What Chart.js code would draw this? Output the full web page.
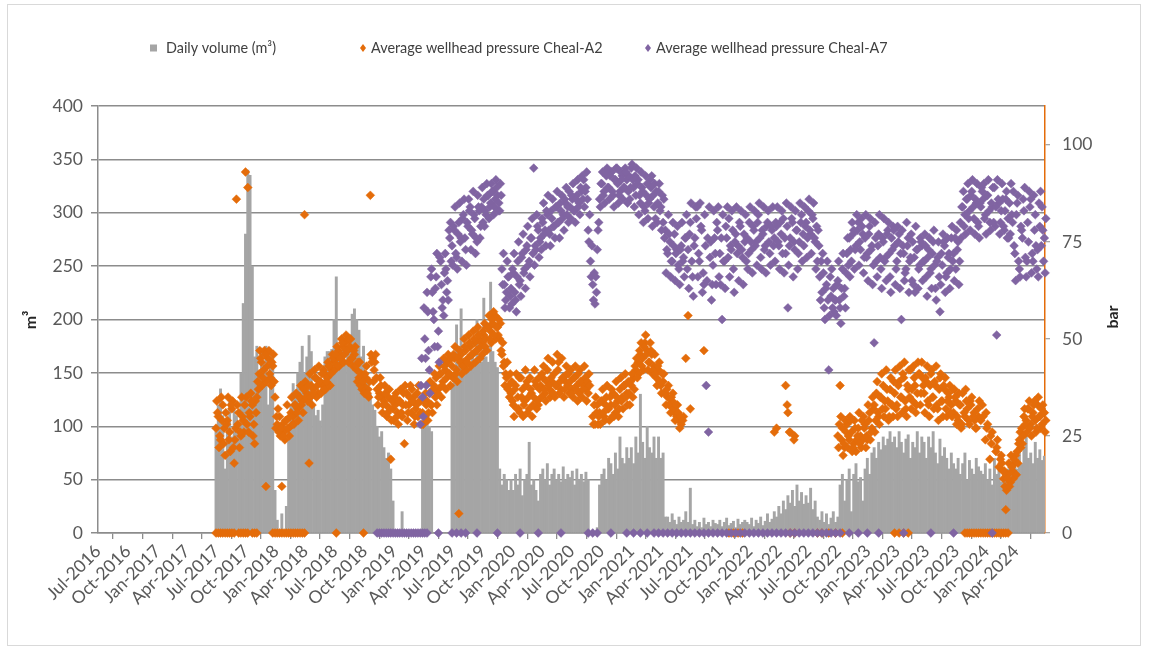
<!DOCTYPE html>
<html>
<head>
<meta charset="utf-8">
<script src="https://cdn.jsdelivr.net/npm/chart.js@4.4.1/dist/chart.umd.min.js"></script>
<style>
  html, body { margin: 0; padding: 0; background: #fff; }
</style>
</head>
<body>
<canvas id="chart" width="1149" height="655"></canvas>
<script>
// quarterly labels of the date axis
const tickLabels = ['Jul-2016', 'Oct-2016', 'Jan-2017', 'Apr-2017', 'Jul-2017', 'Oct-2017', 'Jan-2018', 'Apr-2018',
    'Jul-2018', 'Oct-2018', 'Jan-2019', 'Apr-2019', 'Jul-2019', 'Oct-2019', 'Jan-2020', 'Apr-2020',
    'Jul-2020', 'Oct-2020', 'Jan-2021', 'Apr-2021', 'Jul-2021', 'Oct-2021', 'Jan-2022', 'Apr-2022',
    'Jul-2022', 'Oct-2022', 'Jan-2023', 'Apr-2023', 'Jul-2023', 'Oct-2023', 'Jan-2024', 'Apr-2024'];
const pressureTicks = [0, 25, 50, 75, 100];

const axisStart = '2016-07-01';
const axisEnd = '2024-06-30';
const firstWeek = '2017-06-30';   // one volume reading per week from here on

// daily volume (m3), weekly readings
const volume2017 = [
    95, 120, 135, 110, 60, 100, 125, 90, 115, 110, 95, 150, 215,
    280, 340, 335, 250, 165, 175, 150, 170, 160, 175, 120, 170, 165];
const volume2018 = [
    40, 12, 0, 18, 0, 25, 95, 120, 140, 130, 150, 160, 175,
    150, 165, 185, 170, 120, 110, 115, 105, 120, 165, 170, 170, 172,
    200, 240, 170, 165, 175, 160, 170, 185, 205, 210, 200, 190, 165,
    175, 150, 140, 130, 120, 115, 100, 90, 95, 80, 70, 75, 60];
const volume2019 = [
    30, 0, 0, 0, 20, 0, 0, 0, 0, 0, 0, 0, 0,
    100, 105, 105, 100, 95, 0, 0, 0, 0, 0, 0, 0, 0,
    140, 150, 195, 175, 210, 155, 160, 150, 155, 165, 160, 200, 160,
    160, 220, 165, 160, 235, 170, 160, 155, 60, 45, 55, 50, 40];
const volume2020 = [
    50, 40, 55, 45, 60, 35, 50, 55, 85, 45, 50, 40, 30,
    55, 60, 50, 65, 45, 55, 60, 50, 55, 48, 62, 50, 55,
    52, 58, 45, 60, 50, 55, 48, 57, 50, 0, 0, 0, 5,
    45, 55, 60, 50, 70, 65, 55, 75, 60, 90, 70, 65, 80];
const volume2021 = [
    70, 80, 65, 90, 75, 130, 85, 70, 100, 80, 75, 90, 70,
    90, 70, 75, 15, 15, 10, 18, 12, 8, 15, 10, 12, 20,
    10, 42, 8, 12, 6, 10, 5, 14, 8, 10, 6, 12, 9,
    8, 12, 6, 10, 14, 7, 9, 11, 5, 13, 8, 10, 12];
const volume2022 = [
    10, 8, 14, 6, 12, 9, 15, 7, 11, 18, 10, 13, 20,
    15, 25, 18, 30, 22, 35, 28, 40, 25, 45, 30, 38, 27,
    35, 28, 42, 22, 30, 15, 12, 20, 10, 18, 8, 14, 20,
    10, 15, 45, 55, 30, 50, 60, 20, 55, 65, 48, 52, 30];
const volume2023 = [
    60, 70, 55, 75, 80, 70, 85, 78, 90, 82, 88, 95, 85,
    90, 80, 95, 85, 75, 88, 92, 70, 85, 80, 95, 75, 90,
    85, 70, 90, 80, 95, 75, 65, 88, 72, 80, 70, 60, 75,
    65, 60, 70, 55, 65, 75, 50, 68, 60, 55, 70, 62, 58];
const volume2024 = [
    55, 65, 50, 60, 45, 70, 55, 62, 48, 58, 52, 60, 65,
    70, 75, 60, 85, 65, 80, 96, 70, 75, 65, 85, 70, 78, 68, 72];

// average wellhead pressure Cheal-A2 (bar): first reading of each week
const a2_2017 = [
    27, 30, 24, 33, 20, 29, 26, 32, 18, 86, 31, 25, 29,
    93, 89, 30, 33, 23, 35, 41, 44, 42, 12, 45, 40, 43];
const a2_2018 = [
    35, 28, 30, 12, 26, 29, 27, 31, 30, 33, 32, 35, 34,
    82, 36, 18, 38, 37, 40, 36, 39, 38, 41, 40, 43, 42,
    44, 45, 47, 46, 48, 49, 47, 48, 45, 46, 42, 40, 41,
    38, 40, 37, 87, 45, 44, 37, 36, 35, 34, 33, 35, 19];
const a2_2019 = [
    32, 33, 31, 34, 30, 23, 36, 33, 31, 35, 32, 30, 31,
    31, 30, 34, 36, 33, 38, 40, 37, 41, 39, 42, 44, 41,
    43, 45, 42, 5, 46, 44, 47, 45, 48, 46, 49, 47, 50,
    49, 51, 50, 53, 52, 54, 56, 53, 50, 46, 44, 40, 38];
const a2_2020 = [
    36, 33, 38, 35, 31, 37, 34, 39, 32, 36, 35, 38, 33,
    38, 40, 36, 42, 37, 39, 41, 38, 44, 37, 40, 39, 38,
    39, 37, 40, 38, 36, 39, 38, 37, 36, null, 30, 28, 33,
    31, 34, 30, 35, 32, 33, 36, 31, 34, 37, 35, 38, 36];
const a2_2021 = [
    36, 38, 40, 42, 44, 46, 45, 49, 47, 44, 46, 43, 40,
    42, 38, 39, 36, 35, 33, 34, 31, 30, 29, 28, 30, 45,
    56, 32, null, null, null, null, null, 47, null, null, null, null, null,
    null, null, null, null, null, null, null, null, null, null, null, null, null];
const a2_2022 = [
    null, null, null, null, null, null, null, null, null, null, null, null, 26,
    27, null, null, null, 38, 31, 26, null, 25, null, null, null, null,
    null, null, null, null, null, null, null, null, null, null, null, null, null,
    null, 25, 38, 27, 22, 28, 24, 26, 23, 21, 27, 25, 24];
const a2_2023 = [
    28, 24, 31, 27, 33, 36, 30, 35, 38, 32, 34, 37, 33,
    36, 33, 39, 35, 40, 32, 37, 42, 34, 38, 36, 41, 44,
    36, 39, 33, 41, 35, 38, 32, 40, 34, 37, 30, 35, 33,
    31, 34, 29, 33, 36, 30, 32, 28, 35, 31, 27, 30, 29];
const a2_2024 = [
    30, 24, 28, 19, 26, null, 22, 17, 20, 14, 6, 15, 13,
    16, 18, 21, 24, 27, 30, 29, 32, 28, 31, 29, 33, 30, 28, 31];

// Cheal-A2: second reading of each week
const a2c_2017 = [
    34, 22, 35, 23, 31, 35, 21, 34, 24, 33, 22, 35, 26,
    35, 26, 36, 25, 34, 39, 47, 38, 47, 39, 47, 38, 46];
const a2c_2018 = [
    27, 32, 25, 28, 24, 33, 25, 35, 28, 36, 29, 38, 31,
    39, 34, 41, 33, 42, 35, 43, 36, 42, 37, 44, 38, 46,
    42, 48, 43, 50, 44, 51, 44, 50, 43, 48, 39, 44, 37,
    36, 43, 35, 46, 39, 46, 33, 40, 31, 38, 30, 37, 29];
const a2c_2019 = [
    29, 36, 28, 37, 33, 38, 29, 35, 37, 28, 33, 38, 34,
    28, 36, 29, 39, 31, 41, 33, 43, 35, 45, 37, 46, 38,
    40, 48, 39, 47, 41, 50, 42, 51, 43, 52, 44, 53, 45,
    46, 54, 47, 56, 49, 57, 50, 51, 54, 49, 38, 44, 35];
const a2c_2020 = [
    39, 30, 41, 32, 40, 30, 42, 31, 40, 30, 42, 32, 40,
    35, 43, 34, 45, 35, 44, 35, 46, 36, 45, 35, 43, 41,
    42, 35, 43, 34, 42, 35, 43, 34, 41, null, 28, 35, 28,
    28, 37, 29, 38, 29, 37, 30, 39, 30, 40, 32, 41, 33];
const a2c_2021 = [
    33, 41, 37, 45, 41, 49, 42, 51, 42, 49, 41, 46, 38,
    44, 36, 41, 33, 38, 31, 36, 29, 33, 27, null, null, null,
    null, null, null, null, null, null, null, null, null, null, null, null, null,
    null, null, null, null, null, null, null, null, null, null, null, null, null];
const a2c_2022 = [
    null, null, null, null, null, null, null, null, null, null, null, null, null,
    null, null, null, null, null, null, null, null, null, null, null, null, null,
    null, null, null, null, null, null, null, null, null, null, null, null, null,
    null, 22, 30, 20, 29, 22, 30, 21, 29, 24, 31, 22, 30];
const a2c_2023 = [
    22, 33, 24, 35, 26, 39, 28, 41, 30, 42, 29, 40, 30,
    42, 30, 43, 31, 44, 30, 42, 32, 43, 31, 44, 33, 40,
    31, 43, 30, 42, 32, 43, 29, 41, 30, 40, 34, 38, 30,
    37, 28, 36, 27, null, 37, null, 34, null, 29, null, 34, null];
const a2c_2024 = [
    null, 31, null, 25, null, null, 24, null, 18, 16, 11, 18, 20,
    14, 20, 18, 26, 23, 32, 26, 34, 25, 33, 26, 35, 27, 33, 26];

// Cheal-A2: third reading of each week
const a2b_2017 = [
    31, 25, 29, 27, 28, 24, 33, 22, 27, 28, 26, 30, 33,
    28, 31, 34, 28, 31, 37, 45, 40, 46, 43, 41, 44, 39];
const a2b_2018 = [
    30, 26, 27, 25, 29, 27, 30, 28, 33, 31, 35, 33, 37,
    35, 38, 35, 36, 40, 38, 39, 41, 37, 39, 43, 41, 45,
    46, 43, 45, 49, 46, 47, 50, 45, 47, 43, 44, 38, 39,
    41, 36, 39, 44, 42, 40, 35, 38, 33, 36, 31, 32, 34];
const a2b_2019 = [
    35, 30, 34, 31, 36, 33, 31, 38, 34, 30, 36, 34, 28,
    34, 33, 31, 33, 37, 35, 36, 41, 38, 43, 40, 41, 45,
    46, 41, 45, 44, 43, 48, 44, 49, 46, 50, 47, 51, 48,
    52, 48, 53, 50, 55, 51, 53, 55, 47, 43, 41, 37, 41];
const a2b_2020 = [
    34, 37, 32, 40, 35, 33, 38, 35, 37, 33, 39, 34, 37,
    41, 37, 39, 38, 40, 36, 38, 42, 39, 40, 37, 41, 36,
    36, 40, 37, 41, 39, 37, 40, 39, 38, null, 33, 31, 30,
    34, 31, 33, 32, 35, 30, 33, 35, 32, 34, 38, 35, 39];
const a2b_2021 = [
    39, 35, 43, 40, 47, 43, 48, 46, 44, 47, 42, 41, 43,
    39, 41, 36, 37, 33, 35, 32, 33, 31, 30, 29, null, null,
    null, null, null, null, null, null, null, null, null, null, null, null, null,
    null, null, null, null, null, null, null, null, null, null, null, null, null];
const a2b_2022 = [
    null, null, null, null, null, null, null, null, null, null, null, null, null,
    null, null, null, null, 33, 26, null, 24, null, null, null, null, null,
    null, null, null, null, null, null, null, null, null, null, null, null, null,
    null, 28, 24, 23, 26, 25, 29, 22, 27, 25, 23, 29, 27];
const a2b_2023 = [
    25, 29, 26, 32, 29, 31, 35, 32, 34, 37, 30, 33, 39,
    32, 38, 35, 41, 34, 38, 35, 37, 40, 33, 41, 36, 38,
    40, 34, 38, 35, 39, 33, 37, 34, 38, 32, 36, 31, 37,
    35, 30, 33, 28, 31, 34, 29, 33, 30, 27, 32, null, 33];
const a2b_2024 = [
    null, 27, null, 23, null, 21, null, 19, 16, 12, 14, 12, 17,
    19, 15, 23, 22, 25, 28, 32, 27, 30, 34, 27, 30, 32, 31, 29];

// average wellhead pressure Cheal-A7 (bar), readings from Jan-2019 (week 78)
const a7FirstIndex = 78;
const a7_2019 = [
    null, null, null, null, null, null, null, null, null, null, null, null, 28,
    35, 50, 62, 42, 68, 55, 66, 52, 70, 60, 72, 65, 76,
    74, 78, 71, 80, 76, 82, 73, 79, 84, 77, 81, 75, 83,
    84, 86, 82, 87, 85, 88, 86, 87, 83, 68, 64, 62, 66];
const a7_2020 = [
    63, 67, 60, 70, 65, 72, 68, 74, 70, 76, 94, 73, 78,
    76, 80, 78, 82, 77, 81, 79, 84, 80, 83, 82, 85, 84,
    84, 86, 83, 87, 85, 88, 91, 89, 78, 70, 64, 59, 73,
    86, 90, 88, 92, 89, 93, 87, 91, 90, 88, 92, 89, 91];
const a7_2021 = [
    92, 94, 89, 87, 91, 85, 88, 83, 90, 86, 92, 84, 88,
    88, 84, 80, 78, 72, 75, 70, 77, 73, 68, 74, 71, 76,
    73, 80, 66, 76, 84, 70, 78, 64, 38, 26, 75, 69, 72,
    78, 72, 55, 70, 76, 81, 73, 68, 77, 74, 79, 71, 75];
const a7_2022 = [
    76, 80, 73, 78, 75, 82, 71, 77, 74, 80, 72, 78, 76,
    79, 74, 77, 81, 72, 58, 76, 80, 73, 78, 75, 82, 74,
    80, 83, 77, 81, 75, 70, 66, 62, 58, 64, 42, 61, 63,
    60, 65, 58, 68, 63, 72, 76, 70, 78, 74, 80, 73, 77];
const a7_2023 = [
    76, 72, 79, 74, 49, 70, 77, 68, 75, 71, 78, 66, 73,
    74, 70, 77, 55, 72, 68, 76, 71, 75, 62, 73, 69, 74,
    70, 66, 73, 68, 75, 63, 71, 57, 69, 74, 67, 72, 76,
    72, 68, 75, 80, 84, 82, 86, 83, 88, 81, 85, 79, 84];
const a7_2024 = [
    86, 82, 87, 80, 84, 89, 51, 85, 83, 79, 86, 81, 77,
    80, 72, 85, 68, 78, 83, 66, 75, 86, 70, 82, 73, 79, 84, 76];

// Cheal-A7: second reading of each week
const a7c_2019 = [
    null, null, null, null, null, null, null, null, null, null, null, null, 38,
    30, 45, 57, 36, 62, 48, 72, 44, 64, 56, 68, 60, 80,
    69, 84, 68, 85, 70, 86, 69, 86, 73, 88, 72, 87, 76,
    89, 79, 90, 81, 90, 82, 91, 83, 90, 64, 58, 70, 58];
const a7c_2020 = [
    59, 72, 57, 75, 61, 77, 63, 79, 66, 81, 69, 82, 71,
    73, 85, 74, 87, 74, 86, 76, 88, 76, 87, 78, 89, 80,
    81, 90, 80, 91, 82, 92, 84, 93, 75, 66, 60, 66, 78,
    84, 93, 85, 94, 86, 93, 84, 94, 85, 93, 86, 94, 85];
const a7c_2021 = [
    86, 95, 84, 94, 82, 93, 80, 92, 81, 91, 79, 90, 80,
    90, 78, 86, 67, 82, 66, 80, 65, 79, 64, 80, 66, 82,
    63, 85, 61, 84, 66, 85, 62, 82, 65, 84, 60, 83, 64,
    84, 64, 82, 63, 84, 66, 83, 62, 84, 65, 83, 64, 82];
const a7c_2022 = [
    68, 84, 67, 83, 69, 85, 68, 84, 67, 83, 69, 84, 70,
    84, 68, 83, 67, 85, 69, 84, 66, 83, 68, 85, 70, 84,
    71, 86, 72, 85, 68, 78, 60, 72, 55, 70, 56, 68, 57,
    56, 70, 54, 72, 58, 76, 66, 80, 68, 82, 69, 81, 67];
const a7c_2023 = [
    82, 65, 81, 64, 80, 66, 82, 63, 81, 65, 80, 62, 79,
    64, 79, 63, 78, 65, 80, 62, 77, 64, 79, 63, 76, 65,
    77, 61, 76, 63, 78, 60, 75, 64, 77, 62, 76, 63, 79,
    65, 78, 64, 76, 88, 77, 90, 78, 91, 77, 90, 76, 89];
const a7c_2024 = [
    90, 77, 91, 78, 89, 79, 91, 77, 90, 78, 88, 76, 90,
    88, 65, 87, 66, 76, 89, 70, 88, 67, 87, 74, 66, 88, 78, 67];

// Cheal-A7: third reading of each week
const a7b_2019 = [
    null, null, null, null, null, null, null, null, null, null, null, null, 45,
    58, 38, 47, 66, 57, 63, 48, 71, 58, 67, 62, 78, 70,
    79, 72, 77, 75, 81, 76, 80, 83, 78, 82, 76, 84, 79,
    80, 83, 87, 84, 88, 84, 89, 85, 87, 72, 60, 66, 61];
const a7b_2020 = [
    68, 62, 66, 64, 71, 67, 73, 69, 76, 72, 74, 79, 75,
    81, 77, 83, 78, 83, 79, 84, 80, 85, 81, 86, 82, 88,
    87, 83, 86, 84, 89, 86, 88, 86, 82, 74, 67, 62, 80,
    90, 87, 93, 89, 92, 88, 91, 94, 87, 91, 89, 93, 88];
const a7b_2021 = [
    89, 91, 92, 90, 87, 89, 84, 87, 85, 89, 87, 81, 85,
    83, 87, 76, 73, 77, 70, 74, 72, 69, 73, 70, 76, 68,
    77, 70, 74, 81, 72, 79, 67, 74, 76, 71, 64, 76, 80,
    66, 76, 70, 79, 71, 74, 78, 75, 72, 80, 73, 77, 70];
const a7b_2022 = [
    72, 75, 79, 74, 80, 76, 78, 73, 79, 75, 79, 74, 80,
    75, 80, 72, 76, 79, 74, 81, 75, 78, 72, 80, 77, 79,
    76, 78, 82, 76, 79, 74, 70, 67, 63, 60, 66, 58, 60,
    64, 60, 63, 61, 67, 69, 73, 77, 73, 78, 75, 79, 71];
const a7b_2023 = [
    71, 77, 73, 69, 76, 74, 71, 76, 70, 77, 72, 76, 78,
    68, 75, 72, 74, 67, 74, 70, 65, 71, 73, 68, 75, 70,
    74, 71, 67, 72, 69, 70, 66, 72, 75, 66, 71, 68, 70,
    76, 73, 70, 84, 79, 86, 81, 87, 84, 86, 80, 85, 88];
const a7b_2024 = [
    81, 87, 83, 85, 80, 84, 86, 80, 86, 83, 76, 85, 82,
    74, 82, 70, 79, 86, 71, 80, 84, 72, 78, 68, 85, 74, 70, 81];

// weeks (counted from firstWeek) with a reading of 0 bar
const a2ZeroWeeks = [0, 1, 2, 3, 4, 5, 6, 7, 8, 10, 11, 12, 13, 14, 16, 17, 18,
    25, 26, 27, 28, 29, 30, 31, 32, 33, 34, 35, 36, 37, 38, 39, 53, 65,
    226, 228, 230, 232, 253, 255, 265, 267, 270, 273, 276, 299, 301, 303, 305,
    330, 331, 332, 333, 334, 335, 336, 337, 338, 339, 340, 341, 342, 343, 344, 345, 346, 347, 348, 349];
const a7ZeroWeeks = [71, 72, 73, 74, 75, 76, 77, 78, 79, 80, 81, 82, 83, 84, 85, 86, 87, 88, 89, 90, 91, 92, 93,
    98, 104, 106, 108, 110, 115, 124, 134, 142, 152, 164, 166, 168, 174, 181, 184, 187, 190, 193,
    195, 197, 199, 201, 203, 205, 207, 209, 211, 213, 215, 217, 219, 221, 223, 225, 227, 229, 231, 233,
    235, 237, 239, 241, 243, 245, 247, 249, 251, 253, 255, 257, 259, 261, 263, 265, 267, 269, 271, 273, 275,
    279, 283, 287, 292, 303, 315, 325, 342];

const COLORS = { volume: '#a5a5a5', a2: '#e46c0a', a7: '#8064a2', grid: '#8c8c8c', text: '#595959' };

const DAY = 86400000;
const dayOf = (s) => (Date.parse(s) - Date.parse(axisStart)) / DAY;
const MONTHS = { Jan: 0, Apr: 3, Jul: 6, Oct: 9 };
const tickDays = tickLabels.map((l) => {
    const [m, y] = l.split('-');
    return (Date.UTC(+y, MONTHS[m], 1) - Date.parse(axisStart)) / DAY;
});
const week0 = dayOf(firstWeek);
const weekDay = (k) => week0 + 7 * k;

const volume = [].concat(volume2017, volume2018, volume2019, volume2020, volume2021, volume2022, volume2023, volume2024);
const a2 = [].concat(a2_2017, a2_2018, a2_2019, a2_2020, a2_2021, a2_2022, a2_2023, a2_2024);
const a2c = [].concat(a2c_2017, a2c_2018, a2c_2019, a2c_2020, a2c_2021, a2c_2022, a2c_2023, a2c_2024);
const a2b = [].concat(a2b_2017, a2b_2018, a2b_2019, a2b_2020, a2b_2021, a2b_2022, a2b_2023, a2b_2024);
const a7 = [].concat(a7_2019, a7_2020, a7_2021, a7_2022, a7_2023, a7_2024);
const a7c = [].concat(a7c_2019, a7c_2020, a7c_2021, a7c_2022, a7c_2023, a7c_2024);
const a7b = [].concat(a7b_2019, a7b_2020, a7b_2021, a7b_2022, a7b_2023, a7b_2024);

// turn a list of weekly readings into chart points; later readings of a week sit a few days on
function toPoints(values, firstIndex, shift) {
    return values
        .map((v, k) => ({ x: weekDay(k + firstIndex) + shift, y: v }))
        .filter((p) => p.y !== null);
}
const zeroPoints = (weeks) => weeks.map((k) => ({ x: weekDay(k), y: 0 }));

const volumePoints = volume.map((v, k) => ({ x: weekDay(k), y: v }));
const a2Points = zeroPoints(a2ZeroWeeks).concat(
    toPoints(a2, 0, 0), toPoints(a2c, 0, 2.3), toPoints(a2b, 0, 4.6));
const a7Points = zeroPoints(a7ZeroWeeks).concat(
    toPoints(a7, a7FirstIndex, 0), toPoints(a7c, a7FirstIndex, 2.3), toPoints(a7b, a7FirstIndex, 4.6));

// frame round the chart, the legend row and both axis titles
const chartDecor = {
    id: 'chartDecor',
    beforeDraw(chart) {
        const c = chart.ctx;
        c.save();
        c.fillStyle = '#fff';
        c.fillRect(0, 0, chart.width, chart.height);
        c.strokeStyle = '#d9d9d9';
        c.lineWidth = 1;
        c.strokeRect(7.5, 4.5, 1133, 641);
        c.restore();
    },
    afterDraw(chart) {
        const c = chart.ctx;
        const ds = chart.data.datasets;
        const markerX = [153.5, 363, 648];
        const textX = [166, 371, 656];
        const y = 48;
        c.save();
        c.font = '14.4px Lato';
        c.textBaseline = 'middle';
        ds.forEach((d, i) => {
            c.fillStyle = d.backgroundColor;
            c.beginPath();
            if (i === 0) {
                c.rect(markerX[i] - 3.5, y - 3.5, 7, 7);
            } else {
                c.moveTo(markerX[i], y - 4);
                c.lineTo(markerX[i] + 3, y);
                c.lineTo(markerX[i], y + 4);
                c.lineTo(markerX[i] - 3, y);
                c.closePath();
            }
            c.fill();
            c.fillStyle = '#404040';
            c.fillText(d.label, textX[i], y);
        });

        c.font = 'bold 16px Lato';
        c.fillStyle = '#262626';
        c.textAlign = 'center';
        c.save();
        c.translate(31, 320);
        c.rotate(-Math.PI / 2);
        c.fillText('m³', 0, 0);
        c.restore();
        c.save();
        c.translate(1113, 317);
        c.rotate(-Math.PI / 2);
        c.fillText('bar', 0, 0);
        c.restore();
        c.restore();
    }
};

const tickFont = { family: 'Lato', size: 17.5 };

new Chart(document.getElementById('chart'), {
    type: 'bar',
    data: {
        datasets: [
            {
                type: 'bar',
                label: 'Daily volume (m³)',
                data: volumePoints,
                backgroundColor: COLORS.volume,
                yAxisID: 'y',
                barPercentage: 1,
                categoryPercentage: 1,
                order: 3
            },
            {
                type: 'scatter',
                label: 'Average wellhead pressure Cheal-A2',
                data: a2Points,
                backgroundColor: COLORS.a2,
                borderColor: COLORS.a2,
                borderWidth: 0.5,
                pointStyle: 'rectRot',
                pointRadius: 4.4,
                yAxisID: 'y1',
                clip: false,
                order: 2
            },
            {
                type: 'scatter',
                label: 'Average wellhead pressure Cheal-A7',
                data: a7Points,
                backgroundColor: COLORS.a7,
                borderColor: COLORS.a7,
                borderWidth: 0.5,
                pointStyle: 'rectRot',
                pointRadius: 4.4,
                yAxisID: 'y1',
                clip: false,
                order: 1
            }
        ]
    },
    options: {
        responsive: false,
        animation: false,
        events: [],
        layout: { padding: { top: 106, left: 0, right: 0, bottom: 0 } },
        plugins: {
            legend: { display: false },
            tooltip: { enabled: false }
        },
        scales: {
            x: {
                type: 'linear',
                min: 0,
                max: dayOf(axisEnd),
                offset: false,
                afterBuildTicks: (s) => { s.ticks = tickDays.map((v) => ({ value: v })); },
                afterFit: (s) => { s.height = 122; },
                ticks: {
                    autoSkip: false,
                    minRotation: 45,
                    maxRotation: 45,
                    padding: 2,
                    font: tickFont,
                    color: COLORS.text,
                    callback: (v, i) => tickLabels[i]
                },
                grid: { drawOnChartArea: false, drawTicks: true, tickLength: 6, color: COLORS.grid, lineWidth: 1.3 },
                border: { color: COLORS.grid, width: 1.5 }
            },
            y: {
                position: 'left',
                min: 0,
                max: 400,
                afterFit: (s) => { s.width = 98; },
                ticks: { stepSize: 50, padding: 8, font: tickFont, color: COLORS.text },
                grid: { color: COLORS.grid, lineWidth: 1.5, tickLength: 7 },
                border: { color: COLORS.grid, width: 1.5 }
            },
            y1: {
                position: 'right',
                min: 0,
                max: 110,
                afterBuildTicks: (s) => { s.ticks = pressureTicks.map((v) => ({ value: v })); },
                afterFit: (s) => { s.width = 104; },
                ticks: { padding: 12, font: tickFont, color: COLORS.text },
                grid: { drawOnChartArea: false, tickLength: 5, color: '#a6a6a6', lineWidth: 1.3 },
                border: { color: COLORS.a2, width: 1.5 }
            }
        }
    },
    plugins: [chartDecor]
});
</script>
</body>
</html>
